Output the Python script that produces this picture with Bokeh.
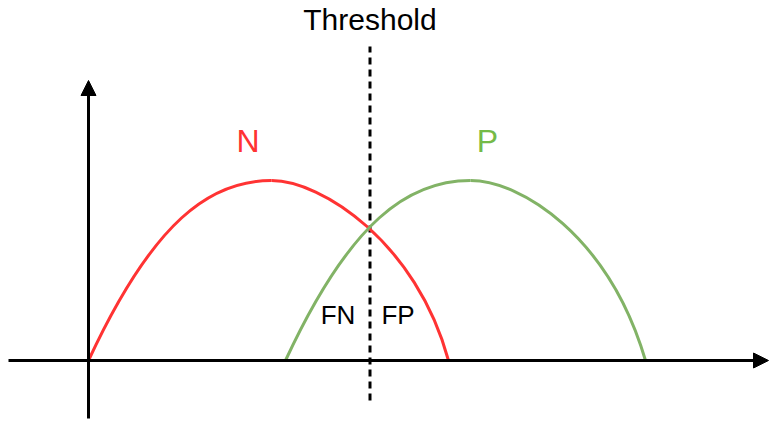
from bokeh.plotting import figure
from bokeh.models import Range1d, Arrow, NormalHead
from bokeh.core.properties import value
from bokeh.embed import file_html
from bokeh.resources import INLINE

# ---- data (diagram units: x from the vertical axis, y above the baseline) ----
# each distribution curve = two cubic Bezier pieces (rise to peak, fall from peak)
n_x0 = [0, 183]
n_y0 = [0, 180]
n_cx0 = [65, 233]
n_cy0 = [140, 180]
n_cx1 = [122, 328]
n_cy1 = [180, 118]
n_x1 = [183, 360]
n_y1 = [180, 0]

p_x0 = [197, 382]
p_y0 = [0, 180]
p_cx0 = [262, 432]
p_cy0 = [140, 180]
p_cx1 = [320, 520]
p_cy1 = [180, 125]
p_x1 = [382, 557]
p_y1 = [180, 0]

threshold = 281.5
curve_labels = ["N", "P"]
curve_label_x = [159.5, 399]
region_labels = ["FN", "FP"]
region_label_x = [249.5, 309.5]

RED = "#FF3333"
GREEN = "#82B366"
GREEN_TXT = "#74BA48"
FONT = value("Liberation Sans")

p = figure(width=778, height=430, output_backend="svg", toolbar_location=None,
           x_range=Range1d(-88, 690), y_range=Range1d(-70, 360),
           x_axis_location=None, y_axis_location=None, min_border=0)
p.grid.visible = False
p.outline_line_color = None
p.background_fill_color = "white"
p.border_fill_color = "white"

# axes with arrow heads
p.add_layout(Arrow(end=NormalHead(size=15, fill_color="black", line_color="black"),
                   x_start=0, y_start=-58, x_end=0, y_end=280,
                   line_color="black", line_width=3))
p.add_layout(Arrow(end=NormalHead(size=15, fill_color="black", line_color="black"),
                   x_start=-80, y_start=0, x_end=680, y_end=0,
                   line_color="black", line_width=3))

# threshold
p.segment(x0=[threshold], y0=[-40], x1=[threshold], y1=[314],
          line_color="black", line_width=3, line_dash="7 5")

# curves
p.bezier(x0=n_x0, y0=n_y0, x1=n_x1, y1=n_y1, cx0=n_cx0, cy0=n_cy0,
         cx1=n_cx1, cy1=n_cy1, line_color=RED, line_width=3)
p.bezier(x0=p_x0, y0=p_y0, x1=p_x1, y1=p_y1, cx0=p_cx0, cy0=p_cy0,
         cx1=p_cx1, cy1=p_cy1, line_color=GREEN, line_width=3)

# texts
p.text(x=[threshold], y=[341], text=["Threshold"], text_font=FONT,
       text_font_size="30px", text_align="center", text_baseline="alphabetic",
       text_color="black")
p.text(x=curve_label_x, y=[220, 220], text=curve_labels, text_font=FONT,
       text_font_size="32px", text_align="center", text_baseline="alphabetic",
       text_color=[RED, GREEN_TXT])
p.text(x=region_label_x, y=[46, 46], text=region_labels, text_font=FONT,
       text_font_size="26px", text_align="center", text_baseline="alphabetic",
       text_color="black")

open("out.html", "w").write(file_html(p, INLINE))
